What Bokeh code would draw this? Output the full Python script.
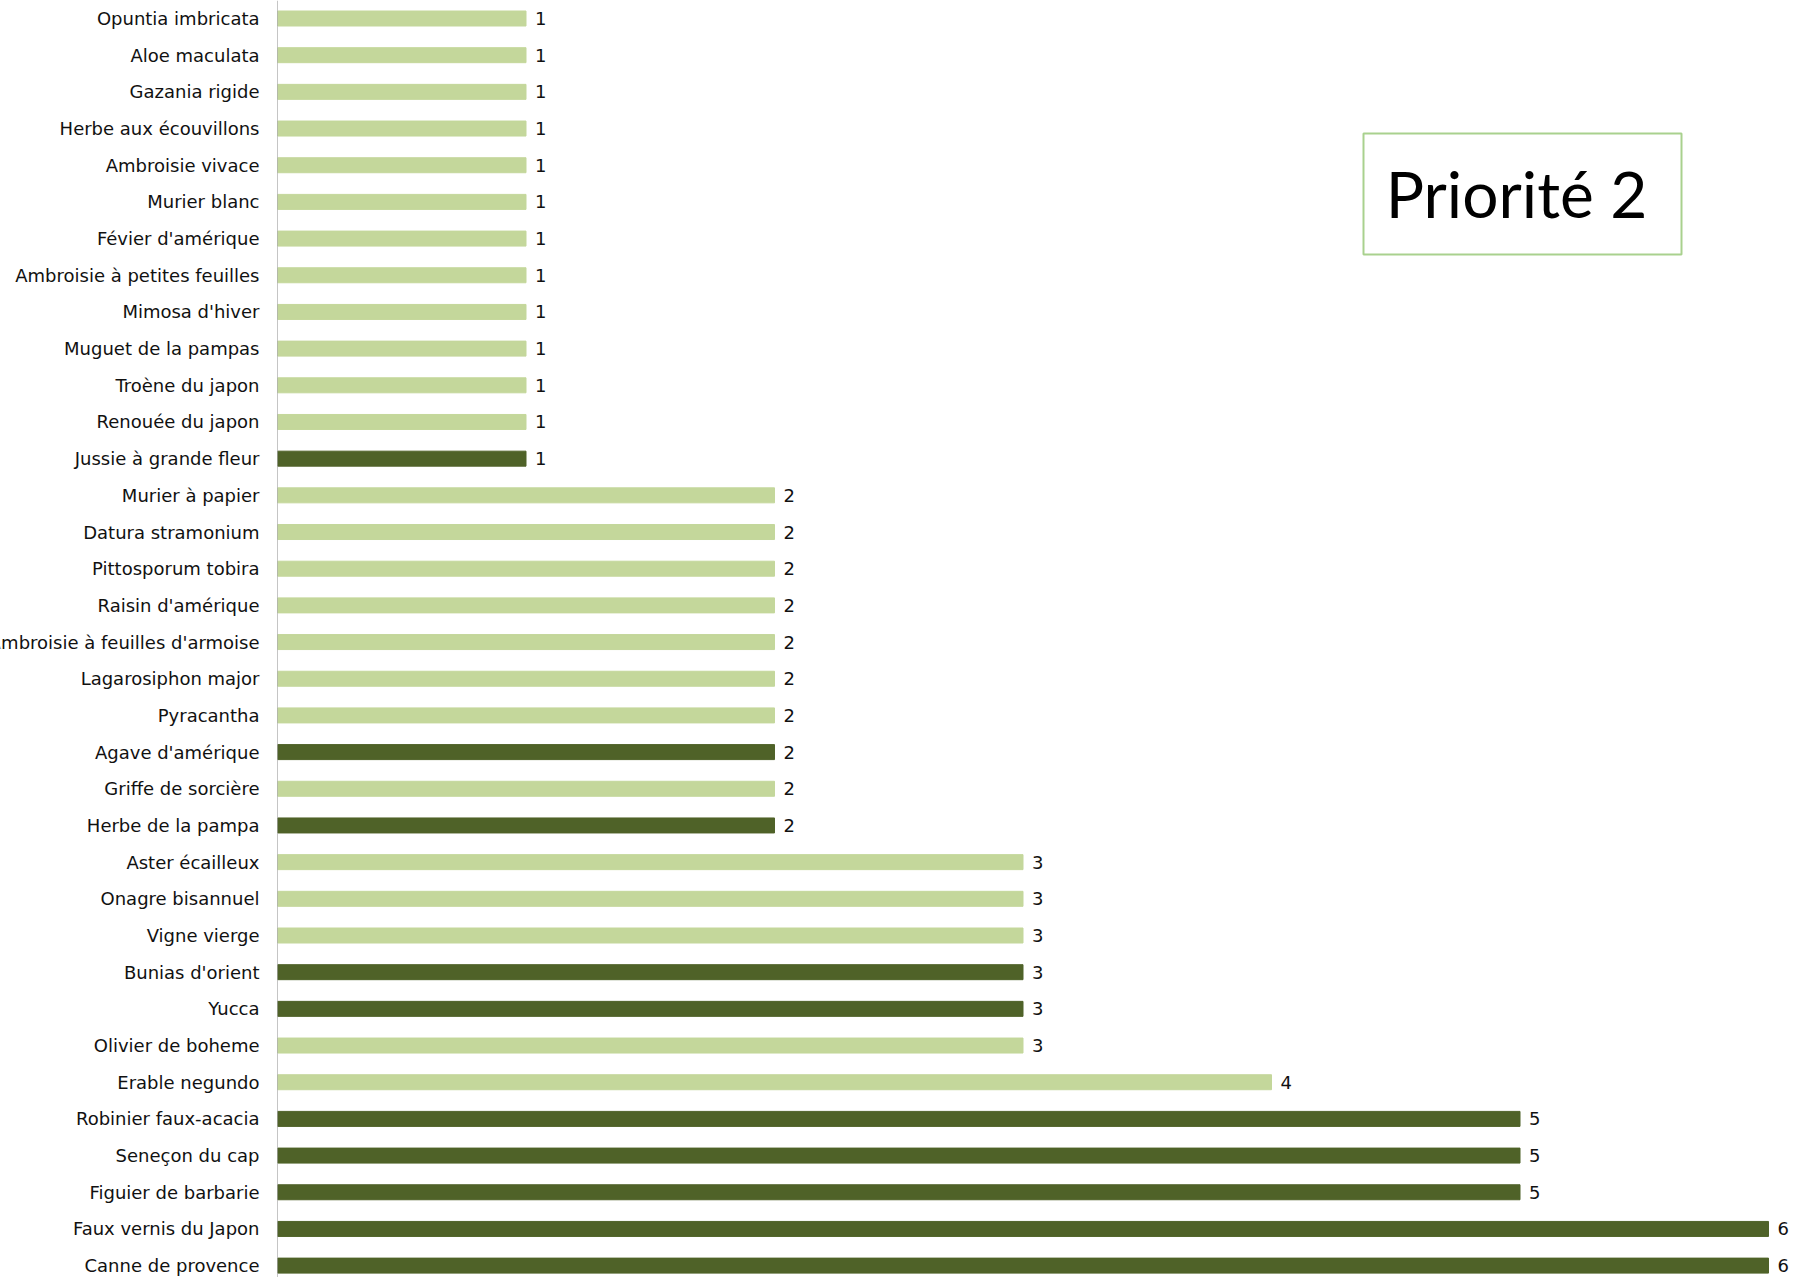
from bokeh.plotting import figure
from bokeh.layouts import row
from bokeh.models import ColumnDataSource, Range1d, LabelSet, Span, BoxAnnotation, Label
from bokeh.core.properties import value
from bokeh.embed import file_html
from bokeh.resources import INLINE

# ---- data (top to bottom as displayed) ----
species = [
    "Opuntia imbricata", "Aloe maculata", "Gazania rigide", "Herbe aux écouvillons",
    "Ambroisie vivace", "Murier blanc", "Févier d'amérique", "Ambroisie à petites feuilles",
    "Mimosa d'hiver", "Muguet de la pampas", "Troène du japon", "Renouée du japon",
    "Jussie à grande fleur", "Murier à papier", "Datura stramonium", "Pittosporum tobira",
    "Raisin d'amérique", "Ambroisie à feuilles d'armoise", "Lagarosiphon major", "Pyracantha",
    "Agave d'amérique", "Griffe de sorcière", "Herbe de la pampa", "Aster écailleux",
    "Onagre bisannuel", "Vigne vierge", "Bunias d'orient", "Yucca", "Olivier de boheme",
    "Erable negundo", "Robinier faux-acacia", "Seneçon du cap", "Figuier de barbarie",
    "Faux vernis du Japon", "Canne de provence",
]
counts = [1, 1, 1, 1, 1, 1, 1, 1, 1, 1, 1, 1, 1,
          2, 2, 2, 2, 2, 2, 2, 2, 2, 2,
          3, 3, 3, 3, 3, 3,
          4, 5, 5, 5, 6, 6]
highlight = [0, 0, 0, 0, 0, 0, 0, 0, 0, 0, 0, 0, 1,
             0, 0, 0, 0, 0, 0, 0, 1, 0, 1,
             0, 0, 0, 1, 1, 0,
             0, 1, 1, 1, 1, 1]
title_text = "Priorité 2"

LIGHT = "#c4d79b"
DARK = "#4f6228"

# ---- layout constants (pixels) ----
W, H = 1798, 1277
LABEL_W = 275        # width of label panel
GAP = 2              # border before bar frame
ROW = 36.68          # px per row
FIRST = 18           # px from top to first row centre
UNIT = 248.5         # px per unit value
FONT = value("DejaVu Sans")

frame_left = LABEL_W + GAP
frame_w = W - frame_left
y_top = -FIRST / ROW
y_bot = y_top + H / ROW
x_end = frame_w / UNIT

idx = list(range(len(species)))
src = ColumnDataSource(dict(
    y=idx, v=counts, name=species,
    color=[DARK if h else LIGHT for h in highlight],
    vtxt=[str(c) for c in counts],
))

yr = Range1d(y_bot, y_top)

# label panel
lab = figure(width=LABEL_W, height=H, output_backend="svg", toolbar_location=None,
             x_range=Range1d(0, LABEL_W), y_range=yr,
             min_border_left=0, min_border_right=0, min_border_top=0, min_border_bottom=0)
lab.axis.visible = False
lab.grid.visible = False
lab.outline_line_color = None
lab.text(x=LABEL_W - 16, y="y", text="name", source=src, text_align="right",
         text_baseline="middle", text_font=FONT, text_font_size="18px", text_color="#111111")

# bar panel
p = figure(width=frame_w + GAP, height=H, output_backend="svg", toolbar_location=None,
           x_range=Range1d(0, x_end), y_range=yr,
           min_border_left=GAP, min_border_right=0, min_border_top=0, min_border_bottom=0)
p.axis.visible = False
p.grid.visible = False
p.outline_line_color = None

p.hbar(y="y", left=0, right="v", height=15 / ROW, color="color", source=src)
p.add_layout(Span(location=0, dimension="height", line_color="#8c8c8c", line_width=1))
p.text(x="v", y="y", text="vtxt", source=src, x_offset=9, text_align="left",
       text_baseline="middle", text_font=FONT, text_font_size="18px", text_color="#111111")

# title box (page px -> data)
def px_x(px):
    return (px - frame_left) / UNIT

def px_y(py):
    return (py - FIRST) / ROW

p.add_layout(BoxAnnotation(left=px_x(1363), right=px_x(1681), top=px_y(133), bottom=px_y(254),
                           fill_color="white", fill_alpha=1, line_color="#a9d18e",
                           line_alpha=1, line_width=2))
p.add_layout(Label(x=px_x(1516), y=px_y(193), text=title_text, text_align="center",
                   text_baseline="middle", text_font="Lato", text_font_size="64px",
                   text_color="black"))

layout = row(lab, p, spacing=0)
open("out.html", "w").write(file_html(layout, INLINE))
